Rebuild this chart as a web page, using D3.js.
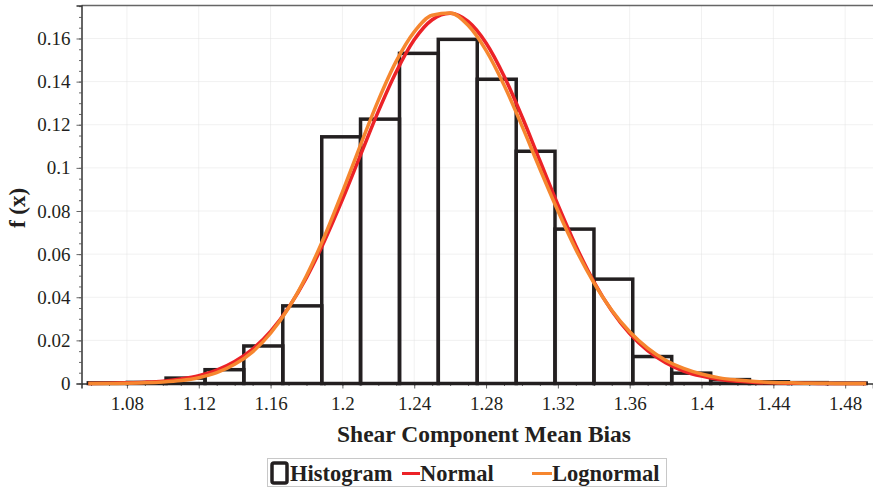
<!DOCTYPE html>
<html>
<head>
<meta charset="utf-8">
<script src="https://cdn.jsdelivr.net/npm/d3@7"></script>
<style>
  body { margin: 0; background: #fff; }
  svg { display: block; }
  .tick text { font-family: "Liberation Serif", "DejaVu Serif", serif; }
</style>
</head>
<body>
<div class="charts-div"></div>
<script>
// histogram bins (lower/upper edges) and bin fractions
const binEdges = [1.0585, 1.0802, 1.1018, 1.1235, 1.1451, 1.1668, 1.1885, 1.2101, 1.2318, 1.2534,
    1.2751, 1.2968, 1.3184, 1.3401, 1.3617, 1.3834, 1.4051, 1.4267, 1.4484, 1.4700, 1.4917];
const binHeights = [0.0003, 0.0005, 0.0025, 0.0064, 0.0174, 0.0360, 0.1144, 0.1226, 0.1531, 0.1596,
    0.1411, 0.1077, 0.0716, 0.0484, 0.0125, 0.0048, 0.0018, 0.0008, 0.0004, 0.0002];

// fitted curves
const curveX = [1.0585, 1.07, 1.08, 1.09, 1.10, 1.11, 1.12, 1.13, 1.14, 1.15, 1.16, 1.17, 1.18, 1.19,
    1.20, 1.21, 1.22, 1.23, 1.24, 1.25, 1.26, 1.27, 1.28, 1.29, 1.30, 1.31, 1.32, 1.33, 1.34, 1.35,
    1.36, 1.37, 1.38, 1.39, 1.40, 1.41, 1.42, 1.43, 1.44, 1.45, 1.46, 1.47, 1.48, 1.49, 1.4917];
const normalY = [0.0000, 0.0001, 0.0003, 0.0006, 0.0011, 0.0021, 0.0036, 0.0062, 0.0102, 0.0160,
    0.0242, 0.0352, 0.0491, 0.0661, 0.0853, 0.1058, 0.1262, 0.1446, 0.1594, 0.1687, 0.1717, 0.1679,
    0.1579, 0.1426, 0.1238, 0.1033, 0.0829, 0.0639, 0.0473, 0.0337, 0.0231, 0.0152, 0.0096, 0.0058,
    0.0034, 0.0019, 0.0010, 0.0005, 0.0003, 0.0001, 0.0001, 0.0000, 0.0000, 0.0000, 0.0000];
const lognormalY = [0.0000, 0.0000, 0.0001, 0.0003, 0.0007, 0.0014, 0.0027, 0.0050, 0.0089, 0.0147,
    0.0233, 0.0350, 0.0500, 0.0682, 0.0888, 0.1104, 0.1313, 0.1495, 0.1631, 0.1708, 0.1718, 0.1661,
    0.1545, 0.1384, 0.1195, 0.0995, 0.0801, 0.0622, 0.0468, 0.0340, 0.0240, 0.0164, 0.0108, 0.0070,
    0.0044, 0.0026, 0.0016, 0.0009, 0.0005, 0.0003, 0.0001, 0.0001, 0.0000, 0.0000, 0.0000];

const xTicks = [1.08, 1.12, 1.16, 1.2, 1.24, 1.28, 1.32, 1.36, 1.4, 1.44, 1.48];
const yTicks = [0, 0.02, 0.04, 0.06, 0.08, 0.1, 0.12, 0.14, 0.16];
const legendItems = ["Histogram", "Normal", "Lognormal"];

const W = 873, H = 489;
const margin = { top: 5.5, right: 0, bottom: 105.5, left: 81.5 };
const width = W - margin.left - margin.right,
    height = H - margin.top - margin.bottom;

const ink = "#231f20";
const serif = '"Liberation Serif", "DejaVu Serif", serif';

const svg = d3.select(".charts-div").append("svg").attr("width", W).attr("height", H);
const g = svg.append("g").attr("transform", `translate(${margin.left},${margin.top})`);

const x = d3.scaleLinear().domain([1.0547, 1.4955]).range([0, width]);
const y = d3.scaleLinear().domain([0, 0.1753]).range([height, 0]);

// grid
g.append("g")
    .selectAll("line.vg")
    .data(xTicks)
    .join("line")
    .attr("x1", (d) => x(d)).attr("x2", (d) => x(d))
    .attr("y1", 0).attr("y2", height)
    .attr("stroke", "#e2e2e2").attr("stroke-dasharray", "1,1");
g.append("g")
    .selectAll("line.hg")
    .data(yTicks.slice(1))
    .join("line")
    .attr("x1", 0).attr("x2", width)
    .attr("y1", (d) => y(d)).attr("y2", (d) => y(d))
    .attr("stroke", "#e2e2e2").attr("stroke-dasharray", "1,1");

// top border
g.append("line").attr("x1", 0).attr("x2", width).attr("y1", 0).attr("y2", 0)
    .attr("stroke", "#666").attr("stroke-width", 1.5);

// minor ticks
g.append("g")
    .attr("transform", `translate(0,${height})`)
    .call(d3.axisBottom(x).tickValues(d3.range(1.06, 1.495, 0.01)).tickSize(2.5).tickFormat(""))
    .call((a) => a.select(".domain").remove())
    .selectAll("line").attr("stroke", "#666");
g.append("g")
    .call(d3.axisLeft(y).tickValues(d3.range(0, 0.176, 0.005)).tickSize(2.5).tickFormat(""))
    .call((a) => a.select(".domain").remove())
    .selectAll("line").attr("stroke", "#666");

// major axes
const xAxis = g.append("g")
    .attr("transform", `translate(0,${height})`)
    .call(d3.axisBottom(x).tickValues(xTicks).tickSize(5).tickPadding(8).tickFormat(d3.format("")));
xAxis.select(".domain").attr("stroke", "#333").attr("stroke-width", 1.5);
xAxis.selectAll("line").attr("stroke", "#666");
xAxis.selectAll("text").attr("font-size", 19).attr("fill", ink).attr("font-family", serif);

const yAxis = g.append("g")
    .call(d3.axisLeft(y).tickValues(yTicks).tickSize(5).tickPadding(6).tickFormat(d3.format("")));
yAxis.select(".domain").attr("stroke", "#333").attr("stroke-width", 1.5);
yAxis.selectAll("line").attr("stroke", "#666");
yAxis.selectAll("text").attr("font-size", 19).attr("fill", ink).attr("font-family", serif);

// histogram
g.append("g")
    .selectAll("rect")
    .data(binHeights)
    .join("rect")
    .attr("x", (d, i) => x(binEdges[i]))
    .attr("width", (d, i) => x(binEdges[i + 1]) - x(binEdges[i]))
    .attr("y", (d) => y(d))
    .attr("height", (d) => height - y(d))
    .attr("fill", "none")
    .attr("stroke", ink)
    .attr("stroke-width", 3.5);

const line = (vals) => d3.line()
    .x((d, i) => x(curveX[i]))
    .y((d) => y(d))
    .curve(d3.curveMonotoneX)(vals);

g.append("path").attr("d", line(normalY)).attr("fill", "none")
    .attr("stroke", "#ec2227").attr("stroke-width", 3.5);
g.append("path").attr("d", line(lognormalY)).attr("fill", "none")
    .attr("stroke", "#f6862f").attr("stroke-width", 3.5);

// axis titles
svg.append("text")
    .attr("x", 484).attr("y", 442)
    .attr("text-anchor", "middle")
    .attr("font-family", serif).attr("font-weight", "bold").attr("font-size", 23.5).attr("fill", ink)
    .text("Shear Component Mean Bias");
svg.append("text")
    .attr("transform", "translate(25,208) rotate(-90)")
    .attr("text-anchor", "middle")
    .attr("font-family", serif).attr("font-weight", "bold").attr("font-size", 23).attr("fill", ink)
    .text("f (x)");

// legend
const legend = svg.append("g");
legend.append("rect")
    .attr("x", 267.5).attr("y", 458.5).attr("width", 399).attr("height", 28)
    .attr("fill", "#fff").attr("stroke", "#c8c8c8");
legend.append("rect")
    .attr("x", 272).attr("y", 463).attr("width", 15).attr("height", 20).attr("rx", 2)
    .attr("fill", "none").attr("stroke", ink).attr("stroke-width", 3.5);
legend.append("line").attr("x1", 402).attr("x2", 420).attr("y1", 473.5).attr("y2", 473.5)
    .attr("stroke", "#ec2227").attr("stroke-width", 3);
legend.append("line").attr("x1", 532).attr("x2", 552).attr("y1", 473.5).attr("y2", 473.5)
    .attr("stroke", "#f6862f").attr("stroke-width", 3);
legend.selectAll("text.item")
    .data(legendItems)
    .join("text")
    .attr("x", (d, i) => [290, 420, 552][i])
    .attr("y", 481)
    .attr("font-family", serif).attr("font-weight", "bold").attr("font-size", 22.5).attr("fill", ink)
    .text((d) => d);
</script>
</body>
</html>
